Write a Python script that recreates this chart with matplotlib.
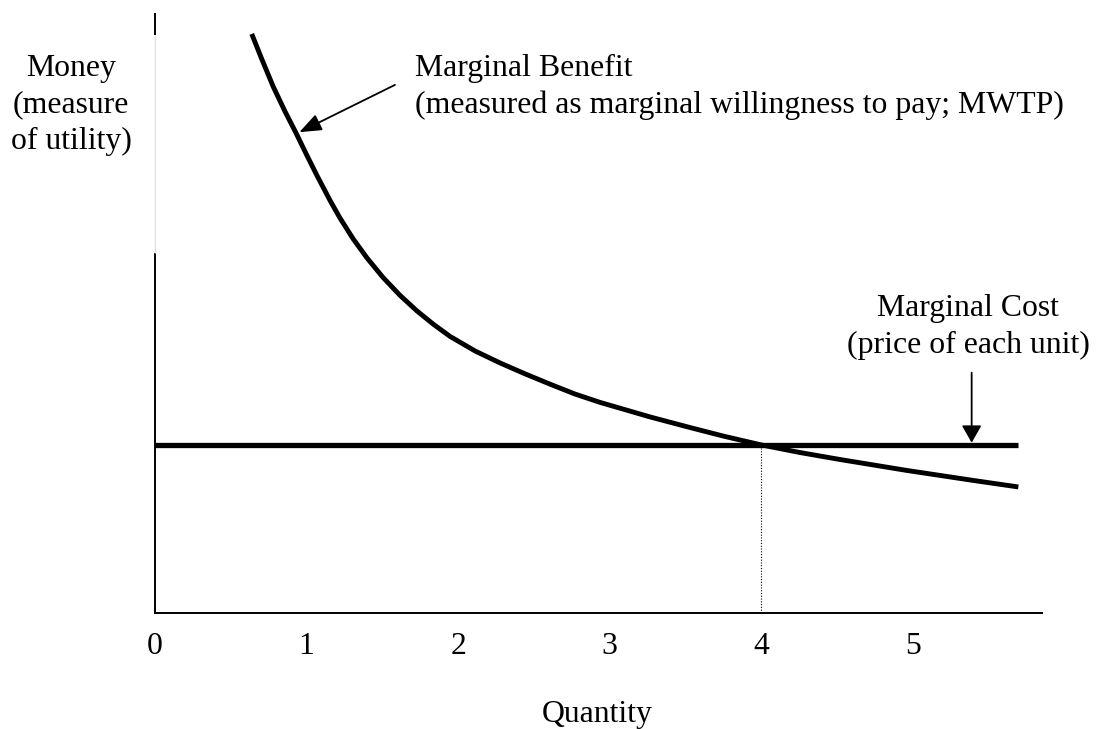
import matplotlib
matplotlib.use("Agg")
import matplotlib.pyplot as plt

plt.rcParams['font.family'] = ['Liberation Serif', 'DejaVu Serif']

# marginal benefit curve
mb_q = [0.638, 0.706, 0.780, 0.858, 0.930, 1.003, 1.069, 1.154, 1.220,
        1.306, 1.398, 1.504, 1.616, 1.728, 1.834, 1.946, 2.111, 2.276,
        2.441, 2.606, 2.770, 2.935, 3.100, 3.265, 3.529, 3.747, 4.000,
        4.255, 4.519, 4.959, 5.398, 5.695]
mb_v = [3.816, 3.646, 3.468, 3.304, 3.163, 3.013, 2.881, 2.719, 2.602,
        2.466, 2.339, 2.210, 2.092, 1.989, 1.903, 1.821, 1.725, 1.646,
        1.574, 1.506, 1.441, 1.386, 1.338, 1.290, 1.220, 1.164, 1.105,
        1.055, 1.009, 0.937, 0.871, 0.828]

# marginal cost is flat
mc_q = [0.0, 5.693]
mc_v = [1.105, 1.105]

q_star = 4
xticks = [0, 1, 2, 3, 4, 5]

money_lines = ["Money", "(measure", "of utility)"]
mb_lines = ["Marginal Benefit", "(measured as marginal willingness to pay; MWTP)"]
mc_lines = ["Marginal Cost", "(price of each unit)"]

FS = 22.9

fig = plt.figure(figsize=(10.96, 7.29), dpi=100)
ax = fig.add_axes([155 / 1096, 116.5 / 729, 887 / 1096, 599.8 / 729])
ax.set_xlim(0, 5.851)
ax.set_ylim(0, 3.956)

for s in ["top", "right", "left"]:
    ax.spines[s].set_visible(False)
ax.spines["bottom"].set_linewidth(1.4)

# y axis, with the faint bit behind the label
ax.plot([0, 0], [0, 2.368], color="black", lw=1.4, clip_on=False, solid_capstyle="butt")
ax.plot([0, 0], [2.368, 3.806], color="#e4e4e4", lw=1.0, clip_on=False, solid_capstyle="butt")
ax.plot([0, 0], [3.806, 3.956], color="black", lw=1.4, clip_on=False, solid_capstyle="butt")

ax.plot(mc_q, mc_v, color="black", lw=3.8, solid_capstyle="butt")
ax.plot(mb_q, mb_v, color="black", lw=3.5, solid_capstyle="butt", solid_joinstyle="round")
ax.plot([q_star, q_star], [0, mc_v[0]], color="black", lw=0.8, linestyle=(0, (1, 1.5)))

ax.set_xticks(xticks)
ax.set_xticklabels([str(t) for t in xticks], fontsize=FS)
ax.set_yticks([])
ax.tick_params(axis="x", length=0, pad=13.9)

ax.text(2.92, -0.720, "Quantity", fontsize=FS, ha="center", va="baseline")

for i, line in enumerate(money_lines):
    ax.text(-0.554, 3.539 - i * 0.242, line, fontsize=FS, ha="center", va="baseline")
for i, line in enumerate(mb_lines):
    ax.text(1.715, 3.539 - i * 0.242, line, fontsize=FS, ha="left", va="baseline")
for i, line in enumerate(mc_lines):
    ax.text(5.363, 1.955 - i * 0.242, line, fontsize=FS, ha="center", va="baseline")

ax.annotate("", xy=(0.952, 3.168), xytext=(1.583, 3.480),
            arrowprops=dict(arrowstyle="-|>,head_length=0.9,head_width=0.35",
                            mutation_scale=15, color="black", lw=1.3,
                            shrinkA=0, shrinkB=0))
ax.annotate("", xy=(5.387, 1.120), xytext=(5.387, 1.582),
            arrowprops=dict(arrowstyle="-|>,head_length=0.7,head_width=0.4",
                            mutation_scale=15, color="black", lw=1.3,
                            shrinkA=0, shrinkB=0))

fig.savefig("out.png", dpi=100)
